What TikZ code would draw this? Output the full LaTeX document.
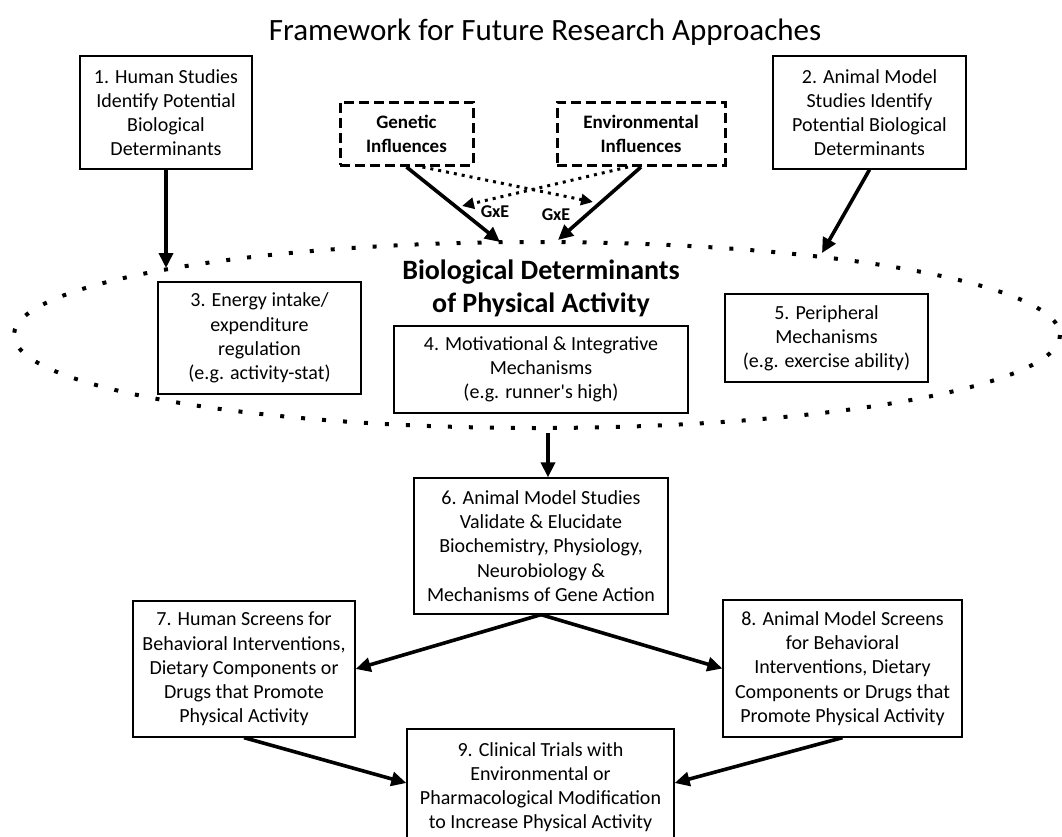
\documentclass[tikz,border=0pt]{standalone}
\usepackage{fontspec}
\setmainfont{Carlito}
\usetikzlibrary{arrows.meta}
\begin{document}
\begin{tikzpicture}[x=1pt,y=-1pt,
  box/.style={draw=black, fill=white, line width=1.3pt, align=center, inner sep=0pt, font=\fontsize{20}{24.2}\selectfont},
  dbox/.style={draw=black, line width=3pt, dash pattern=on 10pt off 5pt, align=center, inner sep=0pt, font=\bfseries\fontsize{19}{24}\selectfont},
  arr/.style={line width=3.6pt, -{Triangle[length=15pt,width=14pt]}},
  darr/.style={line width=3pt, dash pattern=on 3pt off 5pt, -{Triangle[length=12pt,width=11pt]}},
  lbl/.style={font=\bfseries\fontsize{18}{20}\selectfont, inner sep=0pt},
  ring/.style={line width=4pt, dash pattern=on 4pt off 17pt}
]
\useasboundingbox (0,0) rectangle (1062,837);

\node[font=\fontsize{31}{37}\selectfont] (title) at (545,32) {Framework for Future Research Approaches};

% dotted ellipse
\draw[ring] (537,335) ellipse [x radius=523, y radius=93];
\coordinate (e1) at (166,268);
\coordinate (e2) at (822,253);
\coordinate (eg) at (500,242);
\coordinate (ee) at (558,240);
\coordinate (ebot) at (548,433);
\coordinate (dg) at (593,202);
\coordinate (de) at (462,206);

\node[font=\bfseries\fontsize{28}{33}\selectfont, align=center, inner sep=0pt] (bio) at (541,288) {Biological Determinants\\of Physical Activity};

% top boxes
\node[box, minimum width=172pt, minimum height=113pt] (b1) at (166,112.5) {1. Human Studies\\Identify Potential\\Biological\\Determinants};
\node[box, minimum width=193pt, minimum height=113pt] (b2) at (869.5,112.5) {2. Animal Model\\Studies Identify\\Potential Biological\\Determinants};
\node[dbox, minimum width=133pt, minimum height=63pt] (gen) at (406.5,134) {Genetic\\Influences};
\node[dbox, minimum width=168pt, minimum height=63pt] (env) at (641,134) {Environmental\\Influences};

% boxes inside ellipse
\node[box, minimum width=203pt, minimum height=112pt] (b3) at (259.5,338) {3. Energy intake/\\expenditure\\regulation\\(e.g. activity-stat)};
\node[box, minimum width=294pt, minimum height=87pt] (b4) at (541,369.5) {4. Motivational \& Integrative\\Mechanisms\\(e.g. runner\textquotesingle s high)};
\node[box, minimum width=203pt, minimum height=88pt] (b5) at (826.5,338) {5. Peripheral\\Mechanisms\\(e.g. exercise ability)};

% lower boxes
\node[box, minimum width=254pt, minimum height=136pt] (b6) at (541,546) {6. Animal Model Studies\\Validate \& Elucidate\\Biochemistry, Physiology,\\Neurobiology \&\\Mechanisms of Gene Action};
\node[box, minimum width=222pt, minimum height=136pt] (b7) at (244,669) {7. Human Screens for\\Behavioral Interventions,\\Dietary Components or\\Drugs that Promote\\Physical Activity};
\node[box, minimum width=239pt, minimum height=137pt] (b8) at (842.5,668.5) {8. Animal Model Screens\\for Behavioral\\Interventions, Dietary\\Components or Drugs that\\Promote Physical Activity};
\node[box, minimum width=267pt, minimum height=116pt] (b9) at (540.5,787) {9. Clinical Trials with\\Environmental or\\Pharmacological Modification\\to Increase Physical Activity};

% arrows
\draw[arr] (b1.south) -- (e1);
\draw[arr] (b2.south) -- (e2);
\draw[arr] (gen.south) -- (eg);
\draw[arr] (env.south) -- (ee);
\draw[darr] ([xshift=16pt]gen.south) -- (dg);
\draw[darr] ([xshift=-13pt]env.south) -- (de);
\node[lbl] (gxe1) at (495,212) {GxE};
\node[lbl] (gxe2) at (556,215) {GxE};
\draw[arr] (ebot) -- ([xshift=7pt]b6.north);
\draw[arr] (b6.south) -- (b7.east);
\draw[arr] (b6.south) -- (b8.west);
\draw[arr] (b7.south) -- ([yshift=4pt]b9.west);
\draw[arr] (b8.south) -- ([yshift=4pt]b9.east);
\end{tikzpicture}
\end{document}
